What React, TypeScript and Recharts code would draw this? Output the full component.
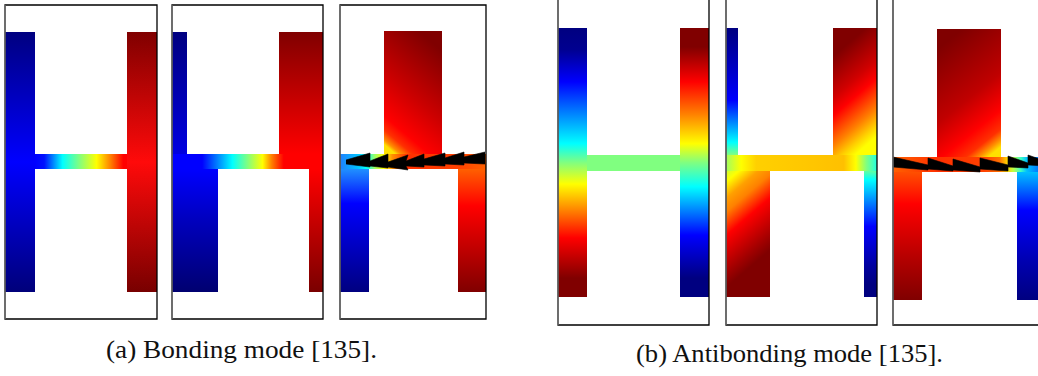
import React from 'react';
import { ComposedChart, XAxis, YAxis, ReferenceArea, ReferenceLine, Area } from 'recharts';

type Rect = { part: string; x1: number; x2: number; y1: number; y2: number };
type Tooth = { x: number; hi: number; lo: number };

// ---------- DATA: geometry of each H-shaped resonator (panel units, y measured downward from frame top) ----------
const bondingSymmetric: Rect[] = [
  { part: 'leftArm', x1: 0, x2: 30, y1: 27, y2: 287 },
  { part: 'rightArm', x1: 122, x2: 152, y1: 27, y2: 287 },
  { part: 'bridge', x1: 30, x2: 122, y1: 149, y2: 164 },
];
const bondingShifted: Rect[] = [
  { part: 'upperLeft', x1: 0, x2: 15, y1: 27, y2: 149 },
  { part: 'lowerLeft', x1: 0, x2: 46, y1: 164, y2: 287 },
  { part: 'bridge', x1: 0, x2: 151, y1: 149, y2: 164 },
  { part: 'upperRight', x1: 107, x2: 151, y1: 27, y2: 149 },
  { part: 'lowerRight', x1: 137, x2: 151, y1: 164, y2: 287 },
];
const bondingCross: Rect[] = [
  { part: 'topBlock', x1: 44, x2: 102, y1: 26, y2: 149 },
  { part: 'bridge', x1: 0, x2: 146, y1: 149, y2: 164 },
  { part: 'lowerLeft', x1: 0, x2: 29, y1: 164, y2: 287 },
  { part: 'lowerRight', x1: 118, x2: 146, y1: 164, y2: 287 },
];
const antiSymmetric: Rect[] = [
  { part: 'bridge', x1: 29, x2: 122, y1: 156, y2: 172 },
  { part: 'leftArm', x1: 0, x2: 29, y1: 29, y2: 298 },
  { part: 'rightArm', x1: 122, x2: 151, y1: 29, y2: 298 },
];
const antiShifted: Rect[] = [
  { part: 'upperLeft', x1: 0, x2: 12, y1: 29, y2: 156 },
  { part: 'bridge', x1: 0, x2: 151, y1: 156, y2: 172 },
  { part: 'lowerLeft', x1: 0, x2: 44, y1: 172, y2: 298 },
  { part: 'upperRight', x1: 107, x2: 151, y1: 29, y2: 156 },
  { part: 'lowerRight', x1: 138, x2: 151, y1: 172, y2: 298 },
];
const antiCross: Rect[] = [
  { part: 'topBlock', x1: 44, x2: 108, y1: 30, y2: 158 },
  { part: 'bridge', x1: 0, x2: 152, y1: 158, y2: 173 },
  { part: 'lowerLeft', x1: 0, x2: 29, y1: 173, y2: 301 },
  { part: 'lowerRight', x1: 124, x2: 152, y1: 173, y2: 301 },
];

// Current arrows (saw-tooth) along the bridge: upper (hi) and lower (lo) edge of the black band
const bondingTeeth: Tooth[] = [
  { x: 6, hi: 155, lo: 159 }, { x: 30, hi: 148, lo: 162 },
  { x: 30, hi: 156, lo: 161 }, { x: 48, hi: 149, lo: 163 },
  { x: 48, hi: 157, lo: 162 }, { x: 68, hi: 150, lo: 165 },
  { x: 66, hi: 156, lo: 161 }, { x: 84, hi: 149, lo: 162 },
  { x: 84, hi: 154, lo: 160 }, { x: 105, hi: 148, lo: 161 },
  { x: 105, hi: 153, lo: 159 }, { x: 124, hi: 147, lo: 160 },
  { x: 124, hi: 152, lo: 158 }, { x: 145, hi: 147, lo: 159 },
];
const antiTeeth: Tooth[] = [
  { x: 0, hi: 158, lo: 168 }, { x: 35, hi: 166, lo: 171 },
  { x: 35, hi: 159, lo: 170 }, { x: 60, hi: 167, lo: 172 },
  { x: 60, hi: 160, lo: 171 }, { x: 87, hi: 168, lo: 173 },
  { x: 87, hi: 159, lo: 170 }, { x: 115, hi: 166, lo: 172 },
  { x: 115, hi: 157, lo: 168 }, { x: 135, hi: 164, lo: 169 },
  { x: 135, hi: 156, lo: 166 }, { x: 152, hi: 162, lo: 167 },
];

const captionA = '(a) Bonding mode [135].';
const captionB = '(b) Antibonding mode [135].';

// ---------- STYLES: jet colour-map gradients per part ----------
type Grad = { dir: [number, number, number, number]; stops: [number, string][] };
const V: [number, number, number, number] = [0, 0, 0, 1];
const H: [number, number, number, number] = [0, 0, 1, 0];

const fillsA1: Record<string, Grad> = {
  leftArm: { dir: V, stops: [[0, '#000080'], [0.5, '#0000ff'], [1, '#00007a']] },
  rightArm: { dir: V, stops: [[0, '#800000'], [0.5, '#ff0a0a'], [1, '#780000']] },
  bridge: { dir: H, stops: [[0, '#0000ff'], [0.1, '#0010ff'], [0.3, '#00ffff'], [0.48, '#80ff80'], [0.67, '#ffff00'], [0.82, '#ff8000'], [0.96, '#ff0000'], [1, '#ff0000']] },
};
const fillsA2: Record<string, Grad> = {
  upperLeft: { dir: V, stops: [[0, '#000080'], [1, '#0000e0']] },
  lowerLeft: { dir: V, stops: [[0, '#0000ff'], [0.4, '#0000c0'], [1, '#000070']] },
  bridge: { dir: H, stops: [[0, '#0000ff'], [0.2, '#0000ff'], [0.3, '#0080ff'], [0.4, '#00ffff'], [0.5, '#80ff80'], [0.6, '#ffff00'], [0.66, '#ff8000'], [0.74, '#ff0000'], [1, '#ff0000']] },
  upperRight: { dir: V, stops: [[0, '#800000'], [0.5, '#c00000'], [1, '#ff0000']] },
  lowerRight: { dir: V, stops: [[0, '#ff0000'], [1, '#7a0000']] },
};
const fillsA3: Record<string, Grad> = {
  topBlock: { dir: [0.6, 0, 0.2, 1], stops: [[0, '#800000'], [0.5, '#cc0000'], [0.8, '#ff0000'], [0.9, '#ff3000'], [0.97, '#ff9000'], [1, '#ffe000']] },
  bridge: { dir: H, stops: [[0, '#2080ff'], [0.12, '#00c0ff'], [0.18, '#00ffff'], [0.24, '#a0ff60'], [0.3, '#ffff00'], [0.36, '#ff9000'], [0.46, '#ff3000'], [0.8, '#ff4000'], [1, '#ff6000']] },
  lowerLeft: { dir: V, stops: [[0, '#2090ff'], [0.28, '#0000ff'], [1, '#000080']] },
  lowerRight: { dir: V, stops: [[0, '#ff6000'], [0.3, '#ff0000'], [1, '#800000']] },
};
const fillsB1: Record<string, Grad> = {
  leftArm: { dir: V, stops: [[0, '#000080'], [0.08, '#000090'], [0.2, '#0000ff'], [0.43, '#00ffff'], [0.5, '#80ff80'], [0.58, '#ffff00'], [0.68, '#ff8000'], [0.78, '#ff0000'], [0.93, '#800000'], [1, '#800000']] },
  rightArm: { dir: V, stops: [[0, '#800000'], [0.07, '#800000'], [0.2, '#ff0000'], [0.32, '#ff8000'], [0.43, '#ffff00'], [0.5, '#80ff80'], [0.59, '#00ffff'], [0.77, '#0000ff'], [0.93, '#000080'], [1, '#000080']] },
  bridge: { dir: H, stops: [[0, '#80ff80'], [1, '#80ff80']] },
};
const fillsB2: Record<string, Grad> = {
  upperLeft: { dir: V, stops: [[0, '#000080'], [0.3, '#0000c0'], [0.57, '#0000ff'], [0.9, '#00ffff'], [1, '#80ff80']] },
  bridge: { dir: H, stops: [[0, '#a0ff60'], [0.1, '#ffff00'], [0.2, '#ffd000'], [0.5, '#ffc800'], [0.78, '#ffc000'], [0.86, '#ffff00'], [0.93, '#80ff80'], [1, '#20ffe0']] },
  lowerLeft: { dir: [0, 0, 0.3, 1], stops: [[0, '#d0ff30'], [0.08, '#ffff00'], [0.2, '#ffa000'], [0.3, '#ff8000'], [0.47, '#ff0000'], [0.75, '#a00000'], [0.85, '#800000'], [1, '#800000']] },
  upperRight: { dir: [0.2, 0, 0.5, 1], stops: [[0, '#800000'], [0.15, '#800000'], [0.45, '#d00000'], [0.58, '#ff0000'], [0.8, '#ff8000'], [0.92, '#ffd000'], [1, '#ffff00']] },
  lowerRight: { dir: V, stops: [[0, '#60ffa0'], [0.07, '#00ffff'], [0.25, '#0080ff'], [0.44, '#0000ff'], [0.75, '#0000a0'], [0.9, '#000080'], [1, '#000080']] },
};
const fillsB3: Record<string, Grad> = {
  topBlock: { dir: [0.4, 0, 0.8, 1], stops: [[0, '#800000'], [0.5, '#c00000'], [0.75, '#ff0000'], [0.88, '#ff3000'], [0.95, '#ff9000'], [1, '#ffe000']] },
  bridge: { dir: H, stops: [[0, '#ff6000'], [0.3, '#ff3000'], [0.6, '#ff4000'], [0.7, '#ff7000'], [0.75, '#ffd000'], [0.79, '#c0ff40'], [0.84, '#40ffc0'], [0.88, '#00c0ff'], [0.95, '#0080ff'], [1, '#0060ff']] },
  lowerLeft: { dir: V, stops: [[0, '#ff5000'], [0.25, '#ff0000'], [0.7, '#b00000'], [1, '#800000']] },
  lowerRight: { dir: V, stops: [[0, '#00c0ff'], [0.1, '#0080ff'], [0.3, '#0000ff'], [0.7, '#0000b0'], [1, '#000080']] },
};

// ---------- LAYOUT ----------
type PanelDef = { id: string; left: number; top: number; w: number; h: number; rects: Rect[]; fills: Record<string, Grad>; teeth?: Tooth[] };
const panels: PanelDef[] = [
  { id: 'a1', left: 4, top: 4, w: 152, h: 314, rects: bondingSymmetric, fills: fillsA1 },
  { id: 'a2', left: 171, top: 4, w: 151, h: 314, rects: bondingShifted, fills: fillsA2 },
  { id: 'a3', left: 339, top: 4, w: 146, h: 314, rects: bondingCross, fills: fillsA3, teeth: bondingTeeth },
  { id: 'b1', left: 557, top: -2, w: 151, h: 326, rects: antiSymmetric, fills: fillsB1 },
  { id: 'b2', left: 725, top: -2, w: 151, h: 326, rects: antiShifted, fills: fillsB2 },
  { id: 'b3', left: 892, top: -2, w: 152, h: 326, rects: antiCross, fills: fillsB3, teeth: antiTeeth },
];

function Panel({ p }: { p: PanelDef }) {
  return (
    <div style={{ position: 'absolute', left: p.left, top: p.top }}>
      <ComposedChart
        width={p.w + 2}
        height={p.h + 2}
        margin={{ top: 1, right: 1, bottom: 1, left: 1 }}
        data={p.teeth ?? []}
      >
        <defs>
          {Object.keys(p.fills).map((k) => {
            const g = p.fills[k];
            return (
              <linearGradient key={k} id={`${p.id}-${k}`} x1={g.dir[0]} y1={g.dir[1]} x2={g.dir[2]} y2={g.dir[3]}>
                {g.stops.map(([o, c], i) => (
                  <stop key={i} offset={o} stopColor={c} />
                ))}
              </linearGradient>
            );
          })}
        </defs>
        <XAxis type="number" dataKey="x" domain={[0, p.w]} hide allowDataOverflow />
        <YAxis type="number" domain={[0, p.h]} hide reversed allowDataOverflow />
        {p.rects.map((r, i) => (
          <ReferenceArea
            key={i}
            x1={r.x1}
            x2={r.x2}
            y1={r.y1}
            y2={r.y2}
            fill={`url(#${p.id}-${r.part})`}
            fillOpacity={1}
            stroke="none"
            ifOverflow="visible"
          />
        ))}
        {p.teeth && (
          <Area
            type="linear"
            dataKey={(d: Tooth) => [d.lo, d.hi]}
            fill="#000"
            fillOpacity={1}
            stroke="#000"
            strokeWidth={0.6}
            isAnimationActive={false}
            dot={false}
            activeDot={false}
          />
        )}
        <ReferenceArea x1={0} x2={p.w} y1={0} y2={p.h} fill="none" fillOpacity={0} stroke="#000" strokeWidth={1.3} ifOverflow="visible" />
        <ReferenceLine x={0} stroke="#7a7a7a" strokeWidth={1.3} ifOverflow="visible" />
      </ComposedChart>
    </div>
  );
}

export default function App() {
  return (
    <div style={{ position: 'absolute', left: 0, top: 0, width: 1038, height: 376, overflow: 'hidden', background: '#fff' }}>
      {panels.map((p) => (
        <Panel key={p.id} p={p} />
      ))}
      <svg width={1038} height={376} style={{ position: 'absolute', left: 0, top: 0, pointerEvents: 'none' }}>
        <text x={106} y={358} fontFamily="'Liberation Serif', serif" fontSize={25.5} fill="#111" textLength={271} lengthAdjust="spacingAndGlyphs">
          {captionA}
        </text>
        <text x={636} y={361.5} fontFamily="'Liberation Serif', serif" fontSize={25.5} fill="#111" textLength={307} lengthAdjust="spacingAndGlyphs">
          {captionB}
        </text>
      </svg>
    </div>
  );
}
